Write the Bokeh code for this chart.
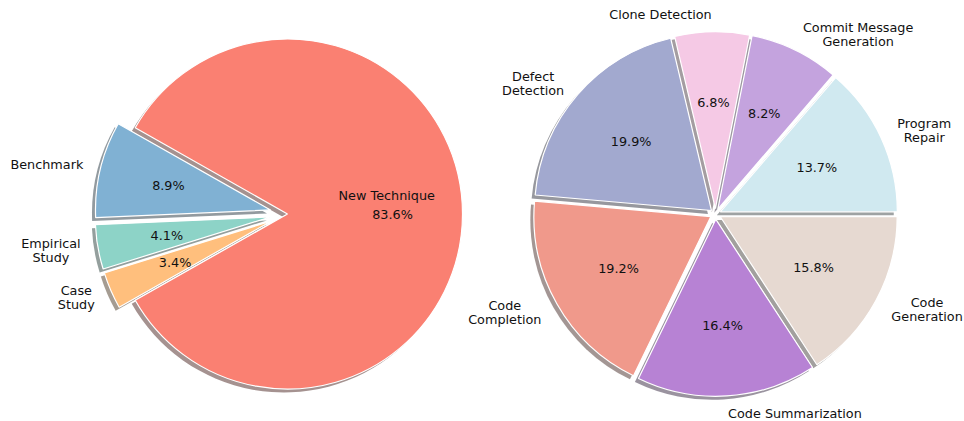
import numpy as np
from bokeh.plotting import figure
from bokeh.models import ColumnDataSource
from bokeh.embed import file_html
from bokeh.resources import INLINE
from bokeh.core.properties import value

# ---------------- data ----------------
left_labels = ["New Technique", "Benchmark", "Empirical\nStudy", "Case\nStudy"]
left_values = [83.6, 8.9, 4.1, 3.4]
left_colors = ["#FA8072", "#80B1D3", "#8DD3C7", "#FFBF7D"]
left_explode = [0.0, 0.1, 0.1, 0.1]

right_labels = ["Program\nRepair", "Commit Message\nGeneration", "Clone Detection",
                "Defect\nDetection", "Code\nCompletion", "Code Summarization",
                "Code\nGeneration"]
right_values = [13.7, 8.2, 6.8, 19.9, 19.2, 16.4, 15.8]
right_colors = ["#D0E9F0", "#C4A3DE", "#F5C9E5", "#A2A9CF", "#F0998B", "#B782D4", "#E6D9D1"]
right_explode = [0.03] * 7

# ---------------- layout ----------------
W, H = 964, 421
FONT = "DejaVu Sans"
FS = "12.8px"
LH = 0.93

p = figure(width=W, height=H, x_range=(0, W), y_range=(0, H),
           toolbar_location=None, output_backend="svg", min_border=0,
           x_axis_location=None, y_axis_location=None)
p.grid.visible = False
p.outline_line_color = None
p.background_fill_color = "white"
p.border_fill_color = "white"


def shadow_color(hexc):
    h = hexc.lstrip("#")
    r, g, b = (int(h[i:i + 2], 16) for i in (0, 2, 4))
    return "#%02x%02x%02x" % (int(r * 0.3), int(g * 0.3), int(b * 0.3))


def draw_pie(cx, cy, R, labels, values, colors, explode, start_deg, custom_label=None):
    vals = np.asarray(values, dtype=float)
    frac = vals / vals.sum()
    t1 = start_deg + 360.0 * np.concatenate([[0.0], np.cumsum(frac)[:-1]])
    t2 = t1 + 360.0 * frac
    mid = np.radians((t1 + t2) / 2.0)
    ex = np.asarray(explode) * R
    x0 = cx + ex * np.cos(mid)
    y0 = cy + ex * np.sin(mid)

    # shadows (beneath all wedges)
    sh = ColumnDataSource(dict(x=x0 - 0.02 * R, y=y0 - 0.02 * R,
                               s=np.radians(t1), e=np.radians(t2),
                               c=[shadow_color(c) for c in colors]))
    p.wedge(x="x", y="y", radius=R, start_angle="s", end_angle="e",
            direction="anticlock", fill_color="c", fill_alpha=0.5,
            line_color=None, source=sh)

    src = ColumnDataSource(dict(x=x0, y=y0, s=np.radians(t1), e=np.radians(t2), c=colors))
    p.wedge(x="x", y="y", radius=R, start_angle="s", end_angle="e",
            direction="anticlock", fill_color="c", line_color="white",
            line_width=1.2, source=src)

    # percentages
    pct = [f"{v:.1f}%" for v in vals]
    ps = ColumnDataSource(dict(x=x0 + 0.6 * R * np.cos(mid), y=y0 + 0.6 * R * np.sin(mid), t=pct))
    p.text(x="x", y="y", text="t", source=ps, text_align="center",
           text_baseline="middle", text_font=value(FONT), text_font_size=FS,
           text_color="#111111")

    # labels
    lx = x0 + 1.1 * R * np.cos(mid)
    ly = y0 + 1.1 * R * np.sin(mid)
    for i, lab in enumerate(labels):
        if custom_label is not None and i in custom_label:
            dx, dy = custom_label[i]
            p.text(x=[cx + dx * R], y=[cy + dy * R], text=[lab], text_align="center",
                   text_baseline="middle", text_font=value(FONT), text_font_size=FS,
                   text_color="#111111")
            continue
        anchor = "center_left" if np.cos(mid[i]) > 0 else "center_right"
        p.text(x=[lx[i]], y=[ly[i]], text=[lab], anchor=anchor, text_align="center",
               text_baseline="middle", text_font=value(FONT), text_font_size=FS,
               text_color="#111111", text_line_height=LH)


# left pie: largest slice centred on the right
left_start = -left_values[0] / sum(left_values) * 360.0 / 2.0
draw_pie(287, 207.5, 175, left_labels, left_values, left_colors, left_explode,
         left_start, custom_label={0: (0.567, 0.106)})
draw_pie(715, 207.5, 177, right_labels, right_values, right_colors, right_explode, 0.0)

open("out.html", "w").write(file_html(p, INLINE))
